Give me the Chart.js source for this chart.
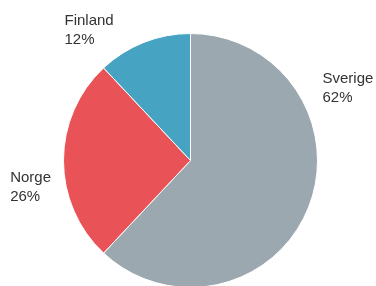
<!DOCTYPE html>
<html>
<head>
<meta charset="utf-8">
<script src="https://cdn.jsdelivr.net/npm/chart.js@4.4.0/dist/chart.umd.min.js"></script>
<style>
  html, body { margin: 0; padding: 0; background: #fff; overflow: hidden; }
  .wrap { position: relative; width: 376px; height: 300px; }
</style>
</head>
<body>
<div class="wrap"><canvas id="pieChart"></canvas></div>
<script>
// Data
const countries = ['Sverige', 'Norge', 'Finland'];
const shares = [62, 26, 12];
const sliceColors = ['#9ca8b0', '#e95256', '#46a3c1'];
// label anchor relative to pie centre, in units of the radius
const labelOffsets = [[1.039, -0.614], [-1.42, 0.17], [-0.992, -1.064]];

const sliceLabels = {
    id: 'sliceLabels',
    afterDatasetsDraw(chart) {
        const ctx = chart.ctx;
        const arcs = chart.getDatasetMeta(0).data;
        ctx.save();
        ctx.font = '15px "Liberation Sans", Arial, sans-serif';
        ctx.fillStyle = '#333';
        ctx.textAlign = 'left';
        ctx.textBaseline = 'alphabetic';
        arcs.forEach((arc, i) => {
            const r = arc.outerRadius;
            const x = arc.x + labelOffsets[i][0] * r;
            const y = arc.y + labelOffsets[i][1] * r;
            ctx.fillText(countries[i], x, y);
            ctx.fillText(shares[i] + '%', x, y + 19);
        });
        ctx.restore();
    }
};

new Chart(document.getElementById('pieChart'), {
    type: 'pie',
    data: {
        labels: countries,
        datasets: [{
            data: shares,
            backgroundColor: sliceColors,
            borderColor: '#fff',
            borderWidth: 1
        }]
    },
    options: {
        responsive: true,
        maintainAspectRatio: false,
        animation: false,
        layout: { padding: { left: 63, right: 58, top: 33, bottom: 12 } },
        plugins: {
            legend: { display: false },
            tooltip: { enabled: false }
        }
    },
    plugins: [sliceLabels]
});
</script>
</body>
</html>
